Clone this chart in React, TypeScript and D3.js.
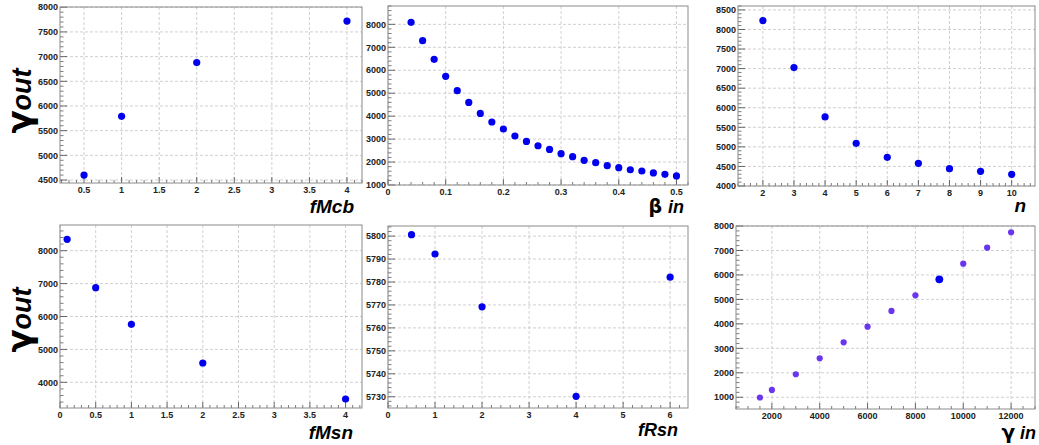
import React from "react";
import * as d3 from "d3";

// ---------- data ----------
const fMcbX = [0.5, 1, 2, 4];
const fMcbY = [4600, 5790, 6880, 7720];

const betaX = [0.04, 0.06, 0.08, 0.1, 0.12, 0.14, 0.16, 0.18, 0.2, 0.22, 0.24, 0.26, 0.28, 0.3, 0.32, 0.34, 0.36, 0.38, 0.4, 0.42, 0.44, 0.46, 0.48, 0.5];
const betaY = [8090, 7290, 6475, 5735, 5110, 4600, 4120, 3745, 3440, 3135, 2900, 2710, 2550, 2365, 2235, 2075, 1975, 1840, 1755, 1665, 1610, 1525, 1465, 1395];

const nX = [2, 3, 4, 5, 6, 7, 8, 9, 10];
const nY = [8227, 7026, 5764, 5091, 4733, 4580, 4443, 4375, 4298];

const fMsnX = [0.1, 0.5, 1, 2, 4];
const fMsnY = [8344, 6876, 5762, 4587, 3494];

const fRsnX = [0.5, 1, 2, 4, 6];
const fRsnY = [5800.6, 5792.2, 5769.2, 5730.2, 5782.1];

const gammaX = [1500, 2000, 3000, 4000, 5000, 6000, 7000, 8000, 9000, 10000, 11000, 12000];
const gammaY = [990, 1300, 1940, 2594, 3247, 3887, 4527, 5167, 5820, 6460, 7114, 7740];
const gammaHighlight = [false, false, false, false, false, false, false, false, true, false, false, false];

// tick labels
const fMcbXTicks = ["0.5", "1", "1.5", "2", "2.5", "3", "3.5", "4"];
const fMcbYTicks = ["4500", "5000", "5500", "6000", "6500", "7000", "7500", "8000"];
const betaXTicks = ["0", "0.1", "0.2", "0.3", "0.4", "0.5"];
const betaYTicks = ["1000", "2000", "3000", "4000", "5000", "6000", "7000", "8000"];
const nXTicks = ["2", "3", "4", "5", "6", "7", "8", "9", "10"];
const nYTicks = ["4000", "4500", "5000", "5500", "6000", "6500", "7000", "7500", "8000", "8500"];
const fMsnXTicks = ["0", "0.5", "1", "1.5", "2", "2.5", "3", "3.5", "4"];
const fMsnYTicks = ["4000", "5000", "6000", "7000", "8000"];
const fRsnXTicks = ["0", "1", "2", "3", "4", "5", "6"];
const fRsnYTicks = ["5730", "5740", "5750", "5760", "5770", "5780", "5790", "5800"];
const gammaXTicks = ["2000", "4000", "6000", "8000", "10000", "12000"];
const gammaYTicks = ["1000", "2000", "3000", "4000", "5000", "6000", "7000", "8000"];

// ---------- layout ----------
type Panel = {
  x: number[]; y: number[];
  xTicks: string[]; yTicks: string[];
  xDom: [number, number]; yDom: [number, number];
  xSub: number; ySub: number;
  box: [number, number, number, number]; // left, top, right, bottom
  color: string; hi?: boolean[]; r: number;
  title: React.ReactNode;
};

const BLUE = "#0000ee";
const PURPLE = "#6a35ef";

const FONT = "'Liberation Sans', Arial, Helvetica, sans-serif";

const panels: Panel[] = [
  {
    x: fMcbX, y: fMcbY, xTicks: fMcbXTicks, yTicks: fMcbYTicks,
    xDom: [0.18, 4.2], yDom: [4440, 8005], xSub: 5, ySub: 5,
    box: [60, 7, 362, 183], color: BLUE, r: 3.6,
    title: <text x={354} y={213} textAnchor="end" fontFamily={FONT} fontWeight="bold" fontStyle="italic" fontSize={19}>fMcb</text>,
  },
  {
    x: betaX, y: betaY, xTicks: betaXTicks, yTicks: betaYTicks,
    xDom: [0, 0.52], yDom: [1000, 8800], xSub: 5, ySub: 5,
    box: [388, 6, 688, 185], color: BLUE, r: 3.6,
    title: (
      <text x={684} y={213} textAnchor="end" fontFamily={FONT} fontWeight="bold" fontSize={18}>
        <tspan fontFamily="'DejaVu Sans', sans-serif" fontSize={19}>β</tspan>
        <tspan dx={6} fontStyle="italic">in</tspan>
      </text>
    ),
  },
  {
    x: nX, y: nY, xTicks: nXTicks, yTicks: nYTicks,
    xDom: [1.2, 10.75], yDom: [4000, 8600], xSub: 5, ySub: 5,
    box: [738, 6, 1035, 186], color: BLUE, r: 3.6,
    title: <text x={1026} y={212} textAnchor="end" fontFamily={FONT} fontWeight="bold" fontStyle="italic" fontSize={19}>n</text>,
  },
  {
    x: fMsnX, y: fMsnY, xTicks: fMsnXTicks, yTicks: fMsnYTicks,
    xDom: [0, 4.23], yDom: [3220, 8780], xSub: 5, ySub: 5,
    box: [60, 225, 362, 408], color: BLUE, r: 3.6,
    title: <text x={353} y={439} textAnchor="end" fontFamily={FONT} fontWeight="bold" fontStyle="italic" fontSize={19}>fMsn</text>,
  },
  {
    x: fRsnX, y: fRsnY, xTicks: fRsnXTicks, yTicks: fRsnYTicks,
    xDom: [0, 6.38], yDom: [5725.1, 5804.4], xSub: 5, ySub: 5,
    box: [388, 226, 688, 408], color: BLUE, r: 3.6,
    title: <text x={678} y={436} textAnchor="end" fontFamily={FONT} fontWeight="bold" fontStyle="italic" fontSize={18}>fRsn</text>,
  },
  {
    x: gammaX, y: gammaY, xTicks: gammaXTicks, yTicks: gammaYTicks,
    xDom: [500, 13000], yDom: [520, 8000], xSub: 4, ySub: 5,
    box: [736, 226, 1035, 409], color: PURPLE, hi: gammaHighlight, r: 3.1,
    title: (
      <text x={1036} y={439} textAnchor="end" fontFamily={FONT} fontWeight="bold" fontSize={18}>
        <tspan fontFamily="'DejaVu Sans', sans-serif" fontSize={20}>γ</tspan>
        <tspan dx={5} fontStyle="italic">in</tspan>
      </text>
    ),
  },
];

function PanelView({ p }: { p: Panel }) {
  const [l, t, r, b] = p.box;
  const xs = d3.scaleLinear().domain(p.xDom).range([l, r]);
  const ys = d3.scaleLinear().domain(p.yDom).range([b, t]);
  const xMaj = p.xTicks.map(Number);
  const yMaj = p.yTicks.map(Number);

  const minors = (maj: number[], sub: number, dom: [number, number]) => {
    const step = (maj[1] - maj[0]) / sub;
    const out: number[] = [];
    const start = maj[0] - Math.floor((maj[0] - dom[0]) / step + 1e-9) * step;
    for (let v = start; v <= dom[1] + 1e-9; v += step) {
      const isMaj = maj.some((m) => Math.abs(m - v) < step * 1e-3);
      if (!isMaj) out.push(v);
    }
    return out;
  };
  const xMin = minors(xMaj, p.xSub, p.xDom);
  const yMin = minors(yMaj, p.ySub, p.yDom);
  const grid = "#c4c4c4";
  const tick = "#444";

  return (
    <g>
      {/* grid */}
      {xMaj.map((v, i) => (
        <line key={"gx" + i} x1={xs(v)} x2={xs(v)} y1={t} y2={b} stroke={grid} strokeWidth={0.8} strokeDasharray="3,2" />
      ))}
      {yMaj.map((v, i) => (
        <line key={"gy" + i} x1={l} x2={r} y1={ys(v)} y2={ys(v)} stroke={grid} strokeWidth={0.8} strokeDasharray="3,2" />
      ))}
      {/* ticks */}
      {xMaj.map((v, i) => (
        <line key={"tx" + i} x1={xs(v)} x2={xs(v)} y1={b} y2={b - 6} stroke={tick} strokeWidth={0.8} />
      ))}
      {xMin.map((v, i) => (
        <line key={"mx" + i} x1={xs(v)} x2={xs(v)} y1={b} y2={b - 3} stroke={tick} strokeWidth={0.7} />
      ))}
      {yMaj.map((v, i) => (
        <line key={"ty" + i} x1={l} x2={l + 7} y1={ys(v)} y2={ys(v)} stroke={tick} strokeWidth={0.8} />
      ))}
      {yMin.map((v, i) => (
        <line key={"my" + i} x1={l} x2={l + 3.5} y1={ys(v)} y2={ys(v)} stroke={tick} strokeWidth={0.7} />
      ))}
      {/* frame */}
      <rect x={l} y={t} width={r - l} height={b - t} fill="none" stroke="#8a8a8a" strokeWidth={1} />
      {/* tick labels */}
      {p.xTicks.map((s, i) => (
        <text key={"lx" + i} x={xs(xMaj[i])} y={b + 10} textAnchor="middle" fontFamily={FONT} fontWeight="bold" fontSize={9} fill="#222">{s}</text>
      ))}
      {p.yTicks.map((s, i) => (
        <text key={"ly" + i} x={l - 2} y={ys(yMaj[i]) + 3.2} textAnchor="end" fontFamily={FONT} fontWeight="bold" fontSize={9} fill="#222">{s}</text>
      ))}
      {/* points */}
      {p.x.map((v, i) => {
        const hi = p.hi ? p.hi[i] : false;
        return (
          <circle key={"pt" + i} cx={xs(v)} cy={ys(p.y[i])} r={hi ? 3.9 : p.r} fill={hi ? BLUE : p.color} />
        );
      })}
      {p.title}
    </g>
  );
}

function YTitle({ cy }: { cy: number }) {
  return (
    <text transform={`translate(31,${cy}) rotate(-90)`} textAnchor="middle" fontFamily={FONT} fontWeight="bold" fontSize={27}>
      <tspan fontFamily="'DejaVu Sans', sans-serif" fontSize={34}>γ</tspan>
      <tspan fontStyle="italic">out</tspan>
    </text>
  );
}

export default function App() {
  return (
    <svg width={1039} height={445} style={{ position: "absolute", left: 0, top: 0, background: "#fff" }}>
      <rect x={0} y={0} width={1039} height={445} fill="#fff" />
      {panels.map((p, i) => (
        <PanelView key={i} p={p} />
      ))}
      <YTitle cy={101} />
      <YTitle cy={320} />
    </svg>
  );
}
